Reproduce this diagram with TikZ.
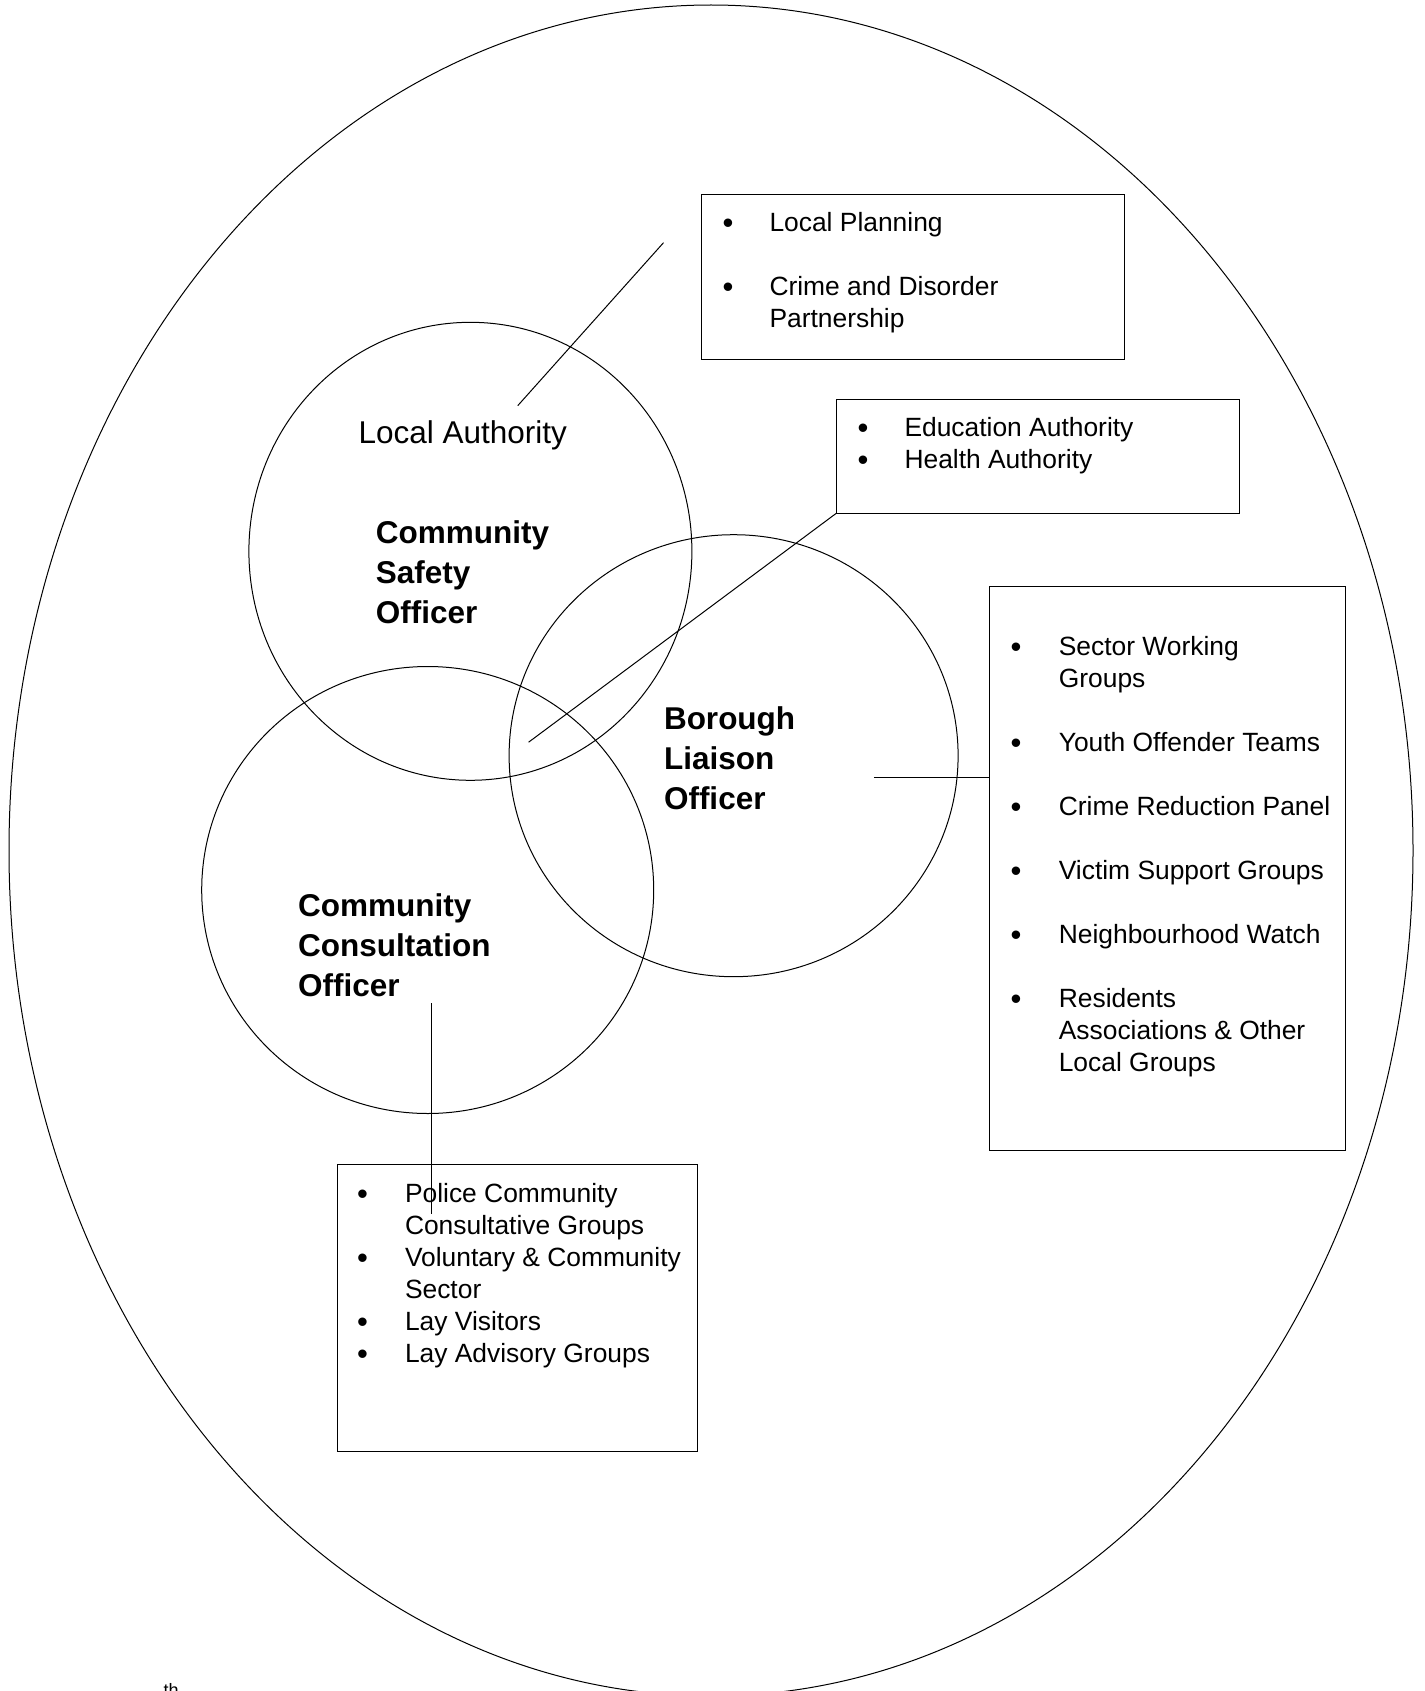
\documentclass[tikz,border=0pt]{standalone}
\usepackage{fontspec}
\setmainfont{Liberation Sans}
\usetikzlibrary{shapes.geometric}

\tikzset{
  ring/.style = {draw, ellipse, inner sep=0},
  listbox/.style = {draw, rectangle, inner sep=0, anchor=north west},
  entry/.style = {anchor=base west, inner sep=0, align=left, font=\fontsize{26.4}{32}\selectfont},
  dots/.style = {anchor=base, inner sep=0, align=center, yshift=-1.7pt, font=\fontsize{31}{32}\selectfont},
  officer/.style = {anchor=base west, inner sep=0, align=left, font=\bfseries\fontsize{31.5}{40}\selectfont},
}

\begin{document}
\begin{tikzpicture}[x=1pt, y=-1pt, line width=1pt]
\useasboundingbox (0,0) rectangle (1424,1691);
\node[ring, minimum width=1404pt, minimum height=1691pt] (area) at (711,850.5) {};

\node[ring, minimum width=443pt, minimum height=458pt] (safety) at (470.4,551.3) {};
\node[ring, minimum width=449pt, minimum height=442pt] (liaison) at (733.6,755.7) {};
\node[ring, minimum width=452pt, minimum height=447pt] (consult) at (427.7,890) {};

% multi-line nodes sit on the baseline of their last line
\node[anchor=base west, inner sep=0, font=\fontsize{31.5}{40}\selectfont] (authority) at (358,443.5) {Local Authority};
\node[officer] (cso) at (375.4,623) {Community\\Safety\\Officer};
\node[officer] (blo) at (663.5,809.7) {Borough\\Liaison\\Officer};
\node[officer] (cco) at (297.7,996.3) {Community\\Consultation\\Officer};

\node[listbox, minimum width=423pt, minimum height=165pt] (planbox) at (701,194) {};
\node[dots] (plandots) at (728,295.7) {\textbullet\\[32pt]\textbullet};
\node[entry] (planlist) at (769,327.7) {Local Planning\\[32pt]Crime and Disorder\\Partnership};

\node[listbox, minimum width=402.5pt, minimum height=113.5pt] (edubox) at (836,399) {};
\node[dots] (edudots) at (863,468.7) {\textbullet\\\textbullet};
\node[entry] (edulist) at (904,468.7) {Education Authority\\Health Authority};

\node[listbox, minimum width=356pt, minimum height=564pt] (sectorbox) at (989,586) {};
\node[dots] (sectordots) at (1016,1007.7) {\textbullet\\[64pt]\textbullet\\[32pt]\textbullet\\[32pt]\textbullet\\[32pt]\textbullet\\[32pt]\textbullet};
\node[entry] (sectorlist) at (1058.3,1071.7) {Sector Working\\Groups\\[32pt]Youth Offender Teams\\[32pt]Crime Reduction Panel\\[32pt]Victim Support Groups\\[32pt]Neighbourhood Watch\\[32pt]Residents\\Associations \& Other\\Local Groups};

\node[listbox, minimum width=360.4pt, minimum height=287pt] (policebox) at (336.6,1164) {};
\node[dots] (policedots) at (362.5,1362.6) {\textbullet\\[32pt]\textbullet\\[32pt]\textbullet\\\textbullet};
\node[entry] (policelist) at (404.5,1362.6) {Police Community\\Consultative Groups\\Voluntary \& Community\\Sector\\Lay Visitors\\Lay Advisory Groups};

\node[anchor=base west, inner sep=0, font=\fontsize{18}{20}\selectfont] (footnote) at (163,1696) {th};

\coordinate (laend) at (517.8,405.6);
\coordinate (plantip) at (663.5,242.7);
\coordinate (lensend) at (528.6,742.2);
\coordinate (bloend) at (873.8,777.8);
\coordinate (sectortip) at (989,777.8);
\coordinate (ccoend) at (431.5,1003.3);
\coordinate (policetip) at (431.5,1213.7);

\draw (laend) -- (plantip);
\draw (lensend) -- (edubox.south west);
\draw (bloend) -- (sectortip);
\draw (ccoend) -- (policetip);
\end{tikzpicture}
\end{document}
